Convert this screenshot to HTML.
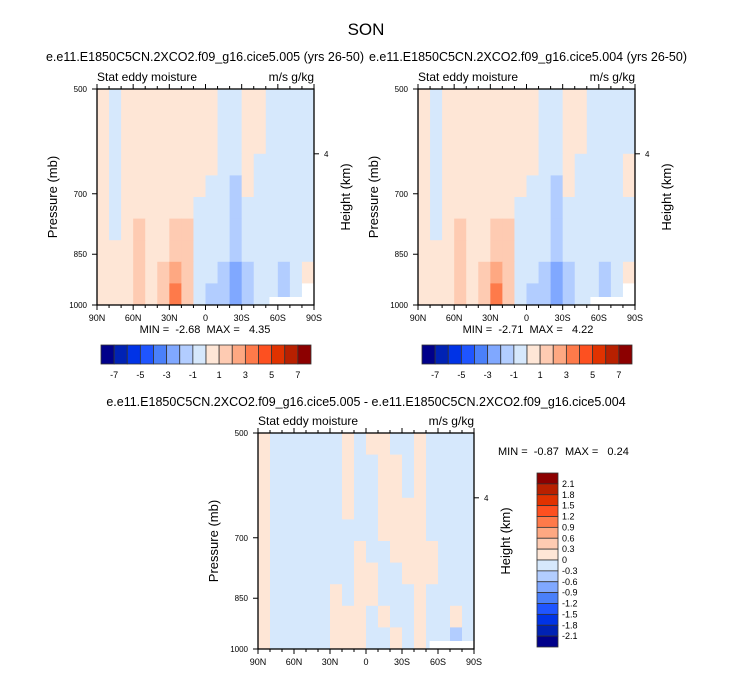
<!DOCTYPE html>
<html><head><meta charset="utf-8"><style>
body{margin:0;background:#fff;}
svg text{font-family:"Liberation Sans",sans-serif;fill:#000;white-space:pre;}
</style></head><body>
<svg id="c" width="733" height="673" xmlns="http://www.w3.org/2000/svg"></svg>
<script>
const levels=[-7,-6,-5,-4,-3,-2,-1,0,1,2,3,4,5,6,7];
const colors=["#00008a","#0022b4","#0033e6","#1f55ff","#4a80fa","#80a8ff","#b2cdff","#d6e8fc","#fee6d6","#fecbb2","#fea882","#fe7a4a","#fd5020","#e03200","#b82000","#8c0000"];
const xTickLabels=["90N","60N","30N","0","30S","60S","90S"];
const pLabels=["500","700","850","1000"];
const pFrac=[0,0.485,0.765,1];
const cbLabelsTop=["-7","-5","-3","-1","1","3","5","7"];
const cbLabelsDiff=["2.1","1.8","1.5","1.2","0.9","0.6","0.3","0","-0.3","-0.6","-0.9","-1.2","-1.5","-1.8","-2.1"];
// missing-data box: [lat-start-deg-from-90N, lat-end, top-frac, bottom-frac]
const missing=[[143,180,0.963,1]];
// grids: columns 90N->90S (10 deg each), rows 500->1000; hex digit = colour index
const gridA=[
"878888888877887777","878888888877887777","878888888877887777","878888888877877777",
"878888888776877777","878888887776777777","878988997776777777","888988997776777777",
"888989A97765677678","888989B9766567767w"];
const gridB=[
"878888888877887777","878888888877887777","878888888877887777","878888888877877778",
"878888888776877778","878888887776777777","878988997776777777","888988997776777777",
"888989A97765677678","888989B9766567767w"];
const gridC=[
"877777787887787777","877777787788787777","877777787788787777","877777787788887777",
"877777777788887777","877777778778888777","877777778877888777","877777878877787777",
"877777888787787787","877777888778787767"];
const svg=document.getElementById('c');
const NS="http://www.w3.org/2000/svg";
function el(t,a,txt){const e=document.createElementNS(NS,t);for(const k in a)e.setAttribute(k,a[k]);if(txt!==undefined)e.textContent=txt;svg.appendChild(e);return e;}
function txt(x,y,s,size,anchor,name,rot){const e=el('text',{x:x,y:y,'font-size':size,'text-anchor':anchor||'start'},s);
if(rot)e.setAttribute('transform','rotate(-90 '+x+' '+y+')');

return e;}
function panel(px,py,w,h,grid,pre,minmax,mmPos){
 const xs=i=>px+w*i/18, ys=j=>py+h*j/10;
 grid.forEach((row,j)=>{for(let i=0;i<18;i++){const ch=row[i];
  const r=el('rect',{x:xs(i),y:ys(j),width:w/18+0.5,height:h/10+0.5,fill:ch==='w'?'#fff':colors[parseInt(ch,16)]});
  
  }});
 missing.forEach(m=>{const r=el('rect',{x:px+w*m[0]/180,y:py+h*m[2],width:w*(m[1]-m[0])/180,height:h*(m[3]-m[2]),fill:'#fff'});
  
  });
 const f=el('rect',{x:px,y:py,width:w,height:h,fill:'none',stroke:'#000','stroke-width':1.3});
 
 
 for(let i=0;i<=18;i++){const x=px+w*i/18,L=i%3==0?5:3;
  el('line',{x1:x,y1:py+h,x2:x,y2:py+h+L,stroke:'#000'});el('line',{x1:x,y1:py,x2:x,y2:py-L,stroke:'#000'});}
 xTickLabels.forEach((s,k)=>txt(px+w*k/6,py+h+16,s,9,'middle',pre+'-x-tick-label'));
 pLabels.forEach((s,k)=>{const y=py+h*pFrac[k];el('line',{x1:px-5,y1:y,x2:px,y2:y,stroke:'#000'});txt(px-10,y+3,s,8,'end',pre+'-y-tick-label');});
 const y4=py+h*0.3;el('line',{x1:px+w,y1:y4,x2:px+w+5,y2:y4,stroke:'#000'});txt(px+w+10,y4+3,"4",8,'start',pre+'-height-tick');
 txt(px,py-8,"Stat eddy moisture",12,'start',pre+'-left-string');
 txt(px+w,py-8,"m/s g/kg",12,'end',pre+'-right-string');
 txt(px-40,py+h/2,"Pressure (mb)",13,'middle',pre+'-y-axis-title',true);
 txt(px+w+36,py+h/2,"Height (km)",13,'middle',pre+'-y2-axis-title',true);
 txt(mmPos[0],mmPos[1],minmax,11,mmPos[2],pre+'-min-max');
}
function hbar(x,y,w,h,pre){const bw=w/16;colors.forEach((c,i)=>{const r=el('rect',{x:x+i*bw,y:y,width:bw,height:h,fill:c,stroke:'#333','stroke-width':0.8});
 
 });
 cbLabelsTop.forEach((s,k)=>txt(x+bw*(1+2*k),y+h+14,s,9,'middle',pre+'-label'));}
txt(366,35,"SON",17,'middle','main-title');
txt(205,61,"e.e11.E1850C5CN.2XCO2.f09_g16.cice5.005 (yrs 26-50)",12.5,'middle','left-panel-title');
txt(528,61,"e.e11.E1850C5CN.2XCO2.f09_g16.cice5.004 (yrs 26-50)",12.5,'middle','right-panel-title');
txt(366,406,"e.e11.E1850C5CN.2XCO2.f09_g16.cice5.005 - e.e11.E1850C5CN.2XCO2.f09_g16.cice5.004",12.5,'middle','diff-panel-title');
panel(97,89,217,216,gridA,'panel-005',"MIN =  -2.68  MAX =   4.35",[205,333,'middle']);
panel(418,89,217,216,gridB,'panel-004',"MIN =  -2.71  MAX =   4.22",[528,333,'middle']);
panel(258,433,216,216,gridC,'panel-diff',"MIN =  -0.87  MAX =   0.24",[498,455,'start']);
hbar(101,345,210,19,'colorbar-005');
hbar(422,345,210,19,'colorbar-004');
const bh=174/16;colors.slice().reverse().forEach((c,i)=>{const r=el('rect',{x:537,y:473+i*bh,width:21,height:bh,fill:c,stroke:'#333','stroke-width':0.8});
 
 });
cbLabelsDiff.forEach((s,k)=>txt(562,473+bh*(k+1)+3,s,9,'start','colorbar-diff-label'));
</script>
</body></html>
